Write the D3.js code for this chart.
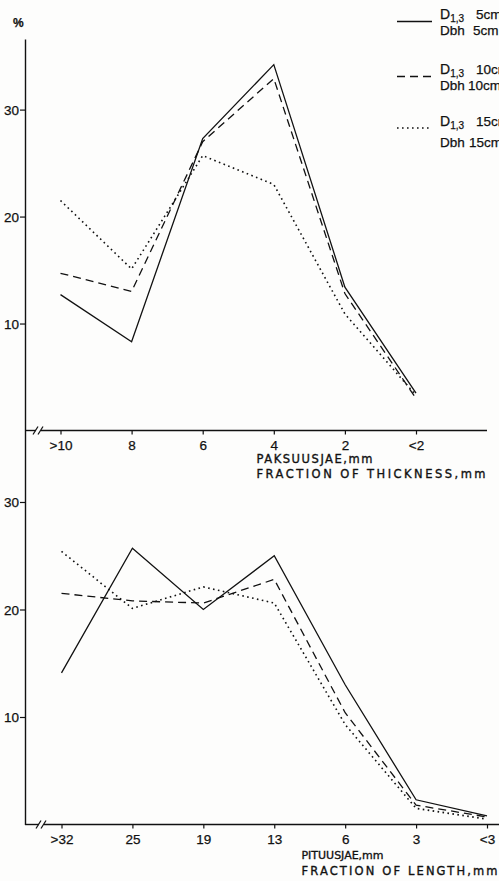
<!DOCTYPE html>
<html><head><meta charset="utf-8">
<script src="https://cdn.jsdelivr.net/npm/d3@7/dist/d3.min.js"></script>
<style>
html,body{margin:0;padding:0;background:#fdfdfc;}
svg{display:block;}
text{fill:#111;stroke:#111;stroke-width:0.25px;}
</style></head>
<body>
<svg id="c" width="499" height="881"></svg>
<script>
// ---- data ----
const thicknessCats = [">10", "8", "6", "4", "2", "<2"];
const lengthCats = [">32", "25", "19", "13", "6", "3", "<3"];
const seriesNames = ["5", "10", "15"];
const thickness5 = [12.7, 8.3, 27.3, 34.2, 13.4, 3.5];
const thickness10 = [14.7, 13.0, 27.0, 32.9, 12.8, 3.0];
const thickness15 = [21.5, 15.1, 25.7, 23.0, 10.9, 3.3];
const length5 = [14.1, 25.7, 20.0, 25.0, 13.0, 2.3, 0.8];
const length10 = [21.5, 20.8, 20.6, 22.8, 10.4, 1.8, 0.7];
const length15 = [25.4, 20.1, 22.1, 20.6, 9.3, 1.5, 0.5];
const yTicks = [10, 20, 30];

const svg = d3.select("#c");
const ink = "#111";
const dashes = [null, "8,5", "1.6,3.4"];

const xTop = d3.scalePoint().domain(thicknessCats).range([60.5, 416]);
const yTop = d3.scaleLinear().domain([0, 36.6]).range([430.5, 39]);
const xBot = d3.scalePoint().domain(lengthCats).range([61.5, 487]);
const yBot = d3.scaleLinear().domain([0, 36.65]).range([824.5, 430.5]);

const fontTick = "'Liberation Sans', Arial, sans-serif";
const fontTitle = "'DejaVu Sans', sans-serif";

function panel(x, y, cats, seriesList, axisEnd, breakX, titles, tickBaseline) {
  const g = svg.append("g");
  const ya = g.append("g").attr("transform", "translate(25,0)")
    .call(d3.axisLeft(y).tickValues(yTicks).tickSize(5).tickSizeOuter(0).tickPadding(1));
  ya.select(".domain").attr("stroke", ink).attr("stroke-width", 1.4);
  ya.selectAll(".tick line").attr("stroke", ink).attr("stroke-width", 1.2);
  ya.selectAll(".tick text").attr("font-family", fontTick).attr("font-size", 13.5).attr("fill", ink).attr("dy", "0.36em");
  const y0 = y(0);
  const xa = g.append("g").attr("transform", `translate(0,${y0})`)
    .call(d3.axisBottom(x).tickSize(4).tickSizeOuter(0).tickPadding(5));
  xa.select(".domain").remove();
  xa.selectAll(".tick line").attr("stroke", ink).attr("stroke-width", 1.2);
  xa.selectAll(".tick text").attr("font-family", fontTick).attr("font-size", 13.5).attr("fill", ink)
    .attr("dy", null).attr("y", tickBaseline - y0);
  g.append("line").attr("x1", 25).attr("x2", breakX - 2).attr("y1", y0).attr("y2", y0).attr("stroke", ink).attr("stroke-width", 1.4);
  g.append("line").attr("x1", breakX + 3).attr("x2", axisEnd).attr("y1", y0).attr("y2", y0).attr("stroke", ink).attr("stroke-width", 1.4);
  [breakX - 2.5, breakX + 2.5].forEach(bx => {
    g.append("line").attr("x1", bx - 2.5).attr("x2", bx + 2.5).attr("y1", y0 + 4).attr("y2", y0 - 4)
      .attr("stroke", ink).attr("stroke-width", 1.2);
  });
  const line = d3.line().x((d, i) => x(cats[i])).y(d => y(d));
  seriesList.forEach((vals, k) => {
    g.append("path").attr("d", line(vals)).attr("fill", "none").attr("stroke", ink)
      .attr("stroke-width", k === 2 ? 1.6 : 1.3).attr("stroke-dasharray", dashes[k])
      .attr("stroke-linejoin", "miter");
  });
  titles.forEach(t => {
    g.append("text").attr("x", t.x).attr("y", t.y).attr("font-family", fontTitle).attr("font-size", t.fs)
      .attr("textLength", t.len).attr("lengthAdjust", "spacing").style("stroke-width", "0.35px").text(t.s);
  });
}

panel(xTop, yTop, thicknessCats, [thickness5, thickness10, thickness15], 487, 38,
  [{s: "PAKSUUSJAE,mm", x: 256.5, y: 463, len: 116, fs: 11.5}, {s: "FRACTION OF THICKNESS,mm", x: 256.5, y: 477.5, len: 229, fs: 11.5}], 450);
panel(xBot, yBot, lengthCats, [length5, length10, length15], 499, 41,
  [{s: "PITUUSJAE,mm", x: 301.5, y: 859, len: 82, fs: 11}, {s: "FRACTION OF LENGTH,mm", x: 301.5, y: 875, len: 196, fs: 11.5}], 843.5);

svg.append("text").attr("x", 13).attr("y", 27).attr("font-family", fontTick).attr("font-size", 12)
  .attr("font-weight", "bold").text("%");

// ---- legend ----
const legY = [21.5, 76.5, 128];
const legBase1 = [18.5, 74, 126];
const legBase2 = [35, 90, 147];
const numX1 = [476, 476, 476];
const numX2 = [473, 468, 469];
seriesNames.forEach((name, k) => {
  svg.append("line").attr("x1", 397).attr("x2", 432).attr("y1", legY[k]).attr("y2", legY[k])
    .attr("stroke", ink).attr("stroke-width", k === 2 ? 1.5 : 1.3).attr("stroke-dasharray", dashes[k]);
  const t1 = svg.append("text").attr("x", 440).attr("y", legBase1[k]).attr("font-family", fontTick).attr("font-size", 14);
  t1.append("tspan").text("D");
  t1.append("tspan").attr("font-size", 10).attr("dy", 3).text("1,3");
  svg.append("text").attr("x", numX1[k]).attr("y", legBase1[k]).attr("font-family", fontTick).attr("font-size", 13.5)
    .text(name + "cm");
  svg.append("text").attr("x", 440).attr("y", legBase2[k]).attr("font-family", fontTick).attr("font-size", 13.5)
    .text("Dbh");
  svg.append("text").attr("x", numX2[k]).attr("y", legBase2[k]).attr("font-family", fontTick).attr("font-size", 13.5)
    .text(name + "cm");
});
</script>
</body></html>
